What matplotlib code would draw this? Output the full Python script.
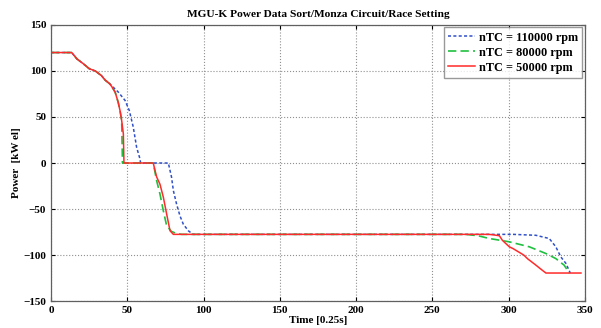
import matplotlib.pyplot as plt

# series (time in 0.25 s steps, power in kW el)
t_110k = [0, 13.5, 17, 21, 25, 29, 33, 35.5, 38.5, 39.7, 44.1, 48.5, 51.3, 53.9, 56.1, 58.3, 58.7,
          76.9, 79, 80.2, 82.3, 84.5, 86.7, 90, 93.2, 303, 317.9, 326.7, 331, 334.3, 337.6, 340.5]
p_110k = [120, 120, 113, 108, 102.5, 100, 95, 90, 86, 84, 77, 68, 57, 39, 17, 4.4, 0,
          0, -15.4, -30, -44.6, -57.3, -66.4, -73.6, -77.5, -77.5, -78.5, -82, -91, -102, -109, -119.5]

t_80k = [0, 13.5, 17, 21, 25, 29, 33, 35.5, 38.5, 40, 42, 44, 45.2, 46.3, 46.8,
         67, 69.2, 71.4, 73.6, 75.8, 79, 82.3, 85.6, 272, 280, 287.4, 300.5, 313.6, 324.5, 331, 336.5, 339.8]
p_80k = [120, 120, 113, 108, 102.5, 100, 95, 90, 86, 82.5, 77, 66, 57, 46, 0,
         0, -19, -33.6, -51.8, -68.2, -74.4, -76.6, -77.5, -77.5, -79, -82, -85.6, -91, -98.3, -103.8, -111, -119.5]

t_50k = [0, 13.5, 17, 21, 25, 29, 33, 35.5, 38.5, 40, 42, 44, 45.2, 46.3, 47.4, 47.8,
         67, 69.2, 71.4, 73.6, 75.8, 78, 80.2, 287, 290, 294, 296, 300.5, 303, 307, 310, 312.5, 318, 321, 324.5, 347.5]
p_50k = [120, 120, 113, 108, 102.5, 100, 95, 90, 86, 82.5, 77, 66, 57, 46, 31.6, 0,
         0, -15, -23, -37, -55.5, -73.6, -77.5, -77.5, -78, -79, -84, -91, -93, -97, -100, -104, -111, -115, -119.5, -119.5]

x_ticks = [0, 50, 100, 150, 200, 250, 300, 350]
y_ticks = [-150, -100, -50, 0, 50, 100, 150]

plt.rcParams['font.family'] = ['Liberation Serif', 'DejaVu Serif']
plt.rcParams['font.weight'] = 'bold'

fig = plt.figure(figsize=(6.01, 3.28), dpi=100)
ax = fig.add_axes([0.085, 0.082, 0.888, 0.842])

ax.plot(t_110k, p_110k, color='#3050c8', linestyle=(0, (2, 1.5)), linewidth=1.1, label='nTC = 110000 rpm')
ax.plot(t_80k, p_80k, color='#20c040', linestyle=(0, (5, 2.5)), linewidth=1.2, label='nTC = 80000 rpm')
ax.plot(t_50k, p_50k, color='#ff2a2a', linestyle='-', linewidth=1.1, label='nTC = 50000 rpm')

ax.set_xlim(0, 350)
ax.set_ylim(-150, 150)
ax.set_xticks(x_ticks)
ax.set_yticks(y_ticks)
ax.tick_params(direction='in', labelsize=8, length=3, top=True, right=True)
ax.grid(True, linestyle=':', color='#909090', linewidth=0.8)
for s in ax.spines.values():
    s.set_color('#606060')
    s.set_linewidth(0.9)

ax.set_title('MGU-K Power Data Sort/Monza Circuit/Race Setting', fontsize=8.2, fontweight='bold', pad=6)
ax.set_xlabel('Time [0.25s]', fontsize=8, fontweight='bold', labelpad=1)
ax.set_ylabel('Power  [kW el]', fontsize=8, fontweight='bold', labelpad=2)
ax.legend(loc='upper right', fontsize=8.8, frameon=True, fancybox=False, edgecolor='#808080',
          handlelength=2.2, handletextpad=0.3, borderpad=0.35, labelspacing=0.25, borderaxespad=0.2)

fig.savefig('out.png', dpi=100)
